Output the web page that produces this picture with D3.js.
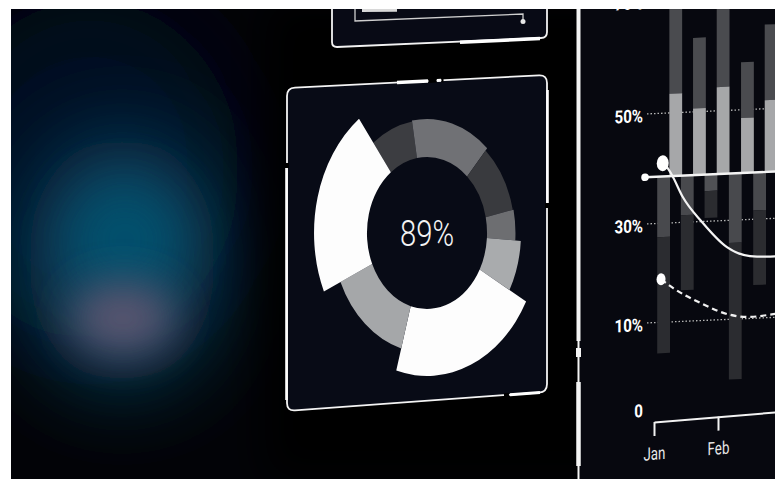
<!DOCTYPE html>
<html><head><meta charset="utf-8">
<script src="https://cdn.jsdelivr.net/npm/d3@7"></script>
<style>html,body{margin:0;padding:0;background:#fff;overflow:hidden}svg{display:block}</style>
</head><body><svg id="c" width="775" height="479"></svg>
<script>
// ---- Donut data ----
const donutValues = [7.6, 14.3, 10, 4.4, 6.9, 21.4, 13.9, 21.4];
const donutScores = [3, 4, 1, 2, 9, 33, 10, 33];
const donutColors = ["#3c3d41", "#707175", "#393a3e", "#6d6e71", "#a9abad", "#fdfdfd", "#a5a7a9", "#fdfdfd"];
const donutLabel = "89%";

// ---- Bar / line chart data ----
const yTicks = [0, 10, 30, 50, 70];
const months = ["Jan", "Feb"];
const baseline = 38.5;
const upperPos = [0.34, 0.71, 1.08, 1.46, 1.83];
const upperLight = [53.4, 50.6, 54.2, 48.5, 51.5];
const upperDark = [73, 63.1, 75, 58.4, 64.9];
const lowerPos = [0.15, 0.52, 0.89, 1.27, 1.65];
const lowerGray = [27.2, 31.3, 35.5, 25.4, 31.6];
const lowerDark = [6.4, 16.3, 30.6, 3.0, 16.7];
const solidX = [0.16, 0.28, 0.45, 0.75, 1.14, 1.5, 1.89, 2.0];
const solidY = [40.9, 38.7, 34.6, 29.9, 24.6, 22.6, 22.3, 22.5];
const dashX = [0.11, 0.30, 0.72, 1.19, 1.5, 1.89, 2.0];
const dashY = [18.7, 16.8, 13.6, 10.9, 10.3, 10.7, 10.9];
const lineStart = -0.14;

const svg = d3.select("#c");
const defs = svg.append("defs");
[["b50", 45], ["b30", 28], ["b20", 20]].forEach(([id, s]) => {
  defs.append("filter").attr("id", id).attr("x", "-100%").attr("y", "-100%").attr("width", "300%").attr("height", "300%")
    .append("feGaussianBlur").attr("stdDeviation", s);
});

// background
svg.append("rect").attr("x", 0).attr("y", 0).attr("width", 775).attr("height", 479).attr("fill", "#020307");
svg.append("ellipse").attr("cx", 90).attr("cy", 170).attr("rx", 150).attr("ry", 170).attr("fill", "#040820").attr("filter", "url(#b50)");
svg.append("ellipse").attr("cx", 122).attr("cy", 260).attr("rx", 95).attr("ry", 125).attr("fill", "#074560").attr("filter", "url(#b50)");
svg.append("ellipse").attr("cx", 125).attr("cy", 240).attr("rx", 55).attr("ry", 55).attr("fill", "#05516e").attr("filter", "url(#b30)");
svg.append("ellipse").attr("cx", 123).attr("cy", 318).attr("rx", 52).attr("ry", 36).attr("fill", "#58546f").attr("filter", "url(#b20)");
svg.append("rect").attr("x", 265).attr("y", 0).attr("width", 520).attr("height", 479).attr("fill", "#010103").attr("filter", "url(#b20)");

// right panel background
svg.append("rect").attr("x", 580).attr("y", 0).attr("width", 200).attr("height", 479).attr("fill", "#07080f");

// ---- top partial panel ----
svg.append("path").attr("d", "M332,5 V42 Q332,47 337,47 L541,38 Q547,38 547,32 V5")
  .attr("fill", "#080a15").attr("stroke", "#f2f2f2").attr("stroke-width", 1.8);
svg.append("line").attr("x1", 460).attr("y1", 42.2).attr("x2", 540).attr("y2", 38.6).attr("stroke", "#fff").attr("stroke-width", 3.5);
svg.append("path").attr("d", "M355,5 V21 L523,14 V21").attr("fill", "none").attr("stroke", "#cfcfcf").attr("stroke-width", 1.3);
svg.append("circle").attr("cx", 523).attr("cy", 21.5).attr("r", 2.5).attr("fill", "#e8e8e8");
svg.append("line").attr("x1", 362).attr("y1", 10.5).attr("x2", 397).attr("y2", 10.2).attr("stroke", "#d8d8d8").attr("stroke-width", 3);

// ---- donut panel ----
const TL = [287, 88], TR = [547, 75], BR = [547, 392], BL = [287, 411], cr = 8;
svg.append("path").attr("d",
  `M${TL[0]},${TL[1] + cr} Q${TL[0]},${TL[1]} ${TL[0] + cr},${TL[1] - 0.4}
   L${TR[0] - cr},${TR[1] + 0.4} Q${TR[0]},${TR[1]} ${TR[0]},${TR[1] + cr}
   L${BR[0]},${BR[1] - cr} Q${BR[0]},${BR[1]} ${BR[0] - cr},${BR[1] + 0.6}
   L${BL[0] + cr},${BL[1] - 0.6} Q${BL[0]},${BL[1]} ${BL[0]},${BL[1] - cr} Z`)
  .attr("fill", "#080b16").attr("stroke", "#f4f4f4").attr("stroke-width", 1.8);
const topY = x => TL[1] + (x - TL[0]) * (TR[1] - TL[1]) / (TR[0] - TL[0]);
const botY = x => BL[1] + (x - BL[0]) * (BR[1] - BL[1]) / (BR[0] - BL[0]);
svg.append("line").attr("x1", 397).attr("y1", topY(397)).attr("x2", 428).attr("y2", topY(428)).attr("stroke", "#fff").attr("stroke-width", 3.5);
svg.append("line").attr("x1", 428.5).attr("y1", topY(428.5)).attr("x2", 436.5).attr("y2", topY(436.5)).attr("stroke", "#000").attr("stroke-width", 4);
svg.append("line").attr("x1", 437).attr("y1", topY(437)).attr("x2", 441).attr("y2", topY(441)).attr("stroke", "#fff").attr("stroke-width", 3);
svg.append("line").attr("x1", 441.5).attr("y1", topY(441.5)).attr("x2", 443.5).attr("y2", topY(443.5)).attr("stroke", "#000").attr("stroke-width", 4);
svg.append("line").attr("x1", 287).attr("y1", 163).attr("x2", 287).attr("y2", 168).attr("stroke", "#000").attr("stroke-width", 4);
svg.append("line").attr("x1", 286.5).attr("y1", 168).attr("x2", 286.5).attr("y2", 400).attr("stroke", "#fff").attr("stroke-width", 2.6);
svg.append("line").attr("x1", 547).attr("y1", 203).attr("x2", 547).attr("y2", 208).attr("stroke", "#000").attr("stroke-width", 4);
svg.append("line").attr("x1", 547.5).attr("y1", 90).attr("x2", 547.5).attr("y2", 203).attr("stroke", "#fff").attr("stroke-width", 2.6);
svg.append("line").attr("x1", 504).attr("y1", botY(504)).attr("x2", 509).attr("y2", botY(509)).attr("stroke", "#000").attr("stroke-width", 4);
svg.append("line").attr("x1", 510).attr("y1", botY(510)).attr("x2", 540).attr("y2", botY(540)).attr("stroke", "#fff").attr("stroke-width", 3);

// donut
const rScale = d3.scaleLinear().domain([0, 33]).range([110, 143]);
const pie = d3.pie().sort(null).startAngle(-37 * Math.PI / 180).endAngle((360 - 37) * Math.PI / 180);
const arc = d3.arc().innerRadius(76).outerRadius(d => rScale(donutScores[d.index]));
const dg = svg.append("g").attr("transform", "translate(427,233) scale(0.79,1)");
dg.selectAll("path").data(pie(donutValues)).join("path")
  .attr("d", arc).attr("fill", (d, i) => donutColors[i]);
dg.append("text").attr("x", 0).attr("y", 12.8).attr("text-anchor", "middle")
  .attr("font-family", "Roboto, 'Open Sans', sans-serif").attr("font-weight", 300).attr("font-size", 37)
  .attr("fill", "#f4f4f4").text(donutLabel);

// ---- vertical divider ----
const div = svg.append("g").attr("stroke", "#f4f4f4");
[[9, 341, 4], [341, 348, 2], [348, 357, 5], [357, 382, 2], [382, 466, 4.5], [466, 479, 2]].forEach(([a, b, w]) => {
  div.append("line").attr("x1", 578.5).attr("x2", 578.5).attr("y1", a).attr("y2", b).attr("stroke-width", w);
});

// ---- bar chart ----
const y = d3.scaleLinear().domain(yTicks).range([409, 323, 224, 114, 1]);
const xm = d3.scaleLinear().domain([0, 2]).range([654, 782]);
const bw = xm(0.2) - xm(0);
const chart = svg.append("g").attr("transform", "translate(645,0) skewY(-2.5) translate(-645,0)");

chart.append("g").selectAll("line").data(yTicks.filter(d => d > 0)).join("line")
  .attr("x1", 647).attr("x2", 782).attr("y1", d => y(d)).attr("y2", d => y(d))
  .attr("stroke", "#b5b5b5").attr("stroke-width", 1.3).attr("stroke-dasharray", "1.5 2");

const ya = chart.append("g").attr("transform", "translate(647,0)")
  .call(d3.axisLeft(y).tickValues(yTicks).tickSize(0).tickPadding(4).tickFormat(d => d === 0 ? "0" : d + "%"));
ya.select(".domain").remove();
ya.selectAll("text").attr("fill", "#fff").attr("font-family", "Roboto, sans-serif").attr("font-weight", 700)
  .attr("font-size", 18).attr("dy", "0.42em").attr("transform", "scale(0.84,1)").attr("x", -4 / 0.84);

const lower = chart.append("g");
lowerPos.forEach((p, i) => {
  lower.append("rect").attr("x", xm(p) - bw / 2).attr("width", bw)
    .attr("y", y(baseline)).attr("height", y(lowerGray[i]) - y(baseline)).attr("fill", i === 2 ? "#505155" : "#48494d");
  lower.append("rect").attr("x", xm(p) - bw / 2).attr("width", bw)
    .attr("y", y(lowerGray[i])).attr("height", y(lowerDark[i]) - y(lowerGray[i])).attr("fill", "#2b2c30");
});
const upper = chart.append("g");
upperPos.forEach((p, i) => {
  upper.append("rect").attr("x", xm(p) - bw / 2).attr("width", bw)
    .attr("y", y(upperDark[i])).attr("height", y(upperLight[i]) - y(upperDark[i])).attr("fill", "#4a4b4f");
  upper.append("rect").attr("x", xm(p) - bw / 2).attr("width", bw)
    .attr("y", y(upperLight[i])).attr("height", y(baseline) - y(upperLight[i])).attr("fill", "#a6a7a9");
});

chart.append("line").attr("x1", xm(lineStart)).attr("x2", 790).attr("y1", y(baseline)).attr("y2", y(baseline))
  .attr("stroke", "#f4f4f4").attr("stroke-width", 2.4);
chart.append("circle").attr("cx", xm(lineStart)).attr("cy", y(baseline)).attr("r", 3.8).attr("fill", "#fff");

const line = d3.line().x(d => xm(d[0])).y(d => y(d[1])).curve(d3.curveMonotoneX);
chart.append("path").attr("d", line(d3.zip(solidX, solidY))).attr("fill", "none")
  .attr("stroke", "#f4f4f4").attr("stroke-width", 2.2);
chart.append("path").attr("d", line(d3.zip(dashX, dashY))).attr("fill", "none")
  .attr("stroke", "#f0f0f0").attr("stroke-width", 2.2).attr("stroke-dasharray", "6 4");
chart.append("ellipse").attr("cx", xm(solidX[0]) - 1.5).attr("cy", y(solidY[0])).attr("rx", 6).attr("ry", 8).attr("fill", "#fff");
chart.append("ellipse").attr("cx", xm(dashX[0])).attr("cy", y(dashY[0])).attr("rx", 4.5).attr("ry", 6).attr("fill", "#fff");

const xa = svg.append("g").attr("transform", "translate(654,0) skewY(-4.7) translate(-654,0) translate(0,422)")
  .call(d3.axisBottom(xm).tickValues([0, 1]).tickSizeInner(14).tickSizeOuter(0).tickPadding(11).tickFormat(d => months[d]));
xa.select(".domain").attr("stroke", "#f2f2f2").attr("stroke-width", 2);
xa.selectAll(".tick line").attr("stroke", "#f2f2f2").attr("stroke-width", 2);
xa.selectAll("text").attr("fill", "#e8e8e8").attr("font-family", "Roboto, sans-serif").attr("font-weight", 400)
  .attr("font-size", 18).attr("transform", "scale(0.74,1)");

svg.append("rect").attr("x", 0).attr("y", 0).attr("width", 775).attr("height", 9).attr("fill", "#fff");
svg.append("rect").attr("x", 0).attr("y", 0).attr("width", 11).attr("height", 479).attr("fill", "#fff");
</script></body></html>
